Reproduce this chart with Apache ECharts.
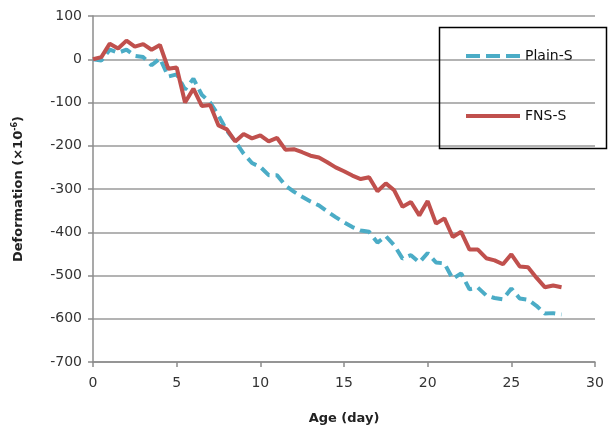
<!DOCTYPE html>
<html>
<head>
<meta charset="utf-8">
<script src="https://cdn.jsdelivr.net/npm/echarts@6/dist/echarts.min.js"></script>
<style>html,body{margin:0;padding:0;background:#fff}#c{width:614px;height:432px}</style>
</head>
<body>
<div id="c"></div>
<script>
const days = [0,0.5,1,1.5,2,2.5,3,3.5,4,4.5,5,5.5,6,6.5,7,7.5,8,8.5,9,9.5,10,10.5,11,11.5,12,12.5,13,13.5,14,14.5,15,15.5,16,16.5,17,17.5,18,18.5,19,19.5,20,20.5,21,21.5,22,22.5,23,23.5,24,24.5,25,25.5,26,26.5,27,27.5,28];
const plainS = [0,-3,22,15,22,8,5,-14,2,-40,-35,-70,-45,-82,-100,-130,-165,-190,-218,-240,-249,-268,-268,-292,-306,-318,-329,-338,-352,-365,-377,-388,-396,-399,-424,-409,-430,-461,-453,-470,-448,-470,-472,-508,-495,-532,-528,-546,-552,-555,-530,-553,-556,-570,-588,-587,-590];
const fnsS = [0,5,36,25,43,29,35,22,33,-22,-19,-100,-68,-108,-106,-153,-162,-190,-173,-183,-176,-190,-182,-209,-208,-215,-223,-227,-238,-250,-259,-269,-277,-273,-305,-287,-303,-341,-330,-361,-328,-380,-368,-411,-399,-440,-440,-460,-465,-474,-451,-479,-481,-505,-527,-523,-527];
const seriesNames = ['Plain-S','FNS-S'];
const xTitle = 'Age (day)';

const chart = echarts.init(document.getElementById('c'), null, {renderer:'canvas'});
const pair = (ys) => days.map((d,i)=>[d, ys[i]]);
chart.setOption({
  animation:false,
  backgroundColor:'#fff',
  textStyle:{fontFamily:'DejaVu Sans'},
  grid:{left:93, right:19, top:16, bottom:70, containLabel:false},
  xAxis:{
    type:'value', min:0, max:30, interval:5,
    name:xTitle, nameLocation:'middle', nameGap:50,
    nameTextStyle:{fontFamily:'DejaVu Sans', fontWeight:'bold', fontSize:13, color:'#222'},
    axisLine:{show:true, onZero:false, lineStyle:{color:'#8c8c8c', width:1.5}},
    axisTick:{show:true, length:5, lineStyle:{color:'#8c8c8c', width:1.5}},
    axisLabel:{fontSize:14, color:'#333', margin:14},
    splitLine:{show:false}
  },
  yAxis:{
    type:'value', min:-700, max:100, interval:100,
    name:'Deformation (×10{sup|-6})', nameLocation:'middle', nameGap:66, nameRotate:90,
    nameTextStyle:{fontFamily:'DejaVu Sans', fontWeight:'bold', fontSize:13, color:'#222',
      rich:{sup:{fontSize:8, fontWeight:'bold', color:'#222', verticalAlign:'top', padding:[0,0,8,0]}}},
    axisLine:{show:true, onZero:false, lineStyle:{color:'#8c8c8c', width:1.5}},
    axisTick:{show:true, length:5, lineStyle:{color:'#8c8c8c', width:1.5}},
    axisLabel:{fontSize:14, color:'#333', margin:11},
    splitLine:{show:true, lineStyle:{color:'#9a9a9a', width:1.5}}
  },
  legend:{
    orient:'vertical', left:461, top:43, itemWidth:54, itemHeight:4, itemGap:44,
    symbolKeepAspect:false,
    textStyle:{fontFamily:'DejaVu Sans', fontSize:14, color:'#111', lineHeight:16},
    data:[
      {name:seriesNames[0], icon:'path://M0,0h14v4h-14z M20,0h14v4h-14z M40,0h14v4h-14z', itemStyle:{color:'#4bacc6'}},
      {name:seriesNames[1], icon:'path://M0,0h54v4h-54z', itemStyle:{color:'#c0504d'}}
    ]
  },
  graphic:[{type:'rect', left:437, top:25, shape:{width:167, height:121}, style:{fill:'none', stroke:'#000', lineWidth:1.5}, z:100}],
  series:[
    {name:seriesNames[0], type:'line', data:pair(plainS), symbol:'none', smooth:false,
     lineStyle:{color:'#4bacc6', width:4, type:[11,6], cap:'butt'}, itemStyle:{color:'#4bacc6'}, z:2},
    {name:seriesNames[1], type:'line', data:pair(fnsS), symbol:'none', smooth:false,
     lineStyle:{color:'#c0504d', width:4}, itemStyle:{color:'#c0504d'}, z:3}
  ]
});
</script>
</body>
</html>
